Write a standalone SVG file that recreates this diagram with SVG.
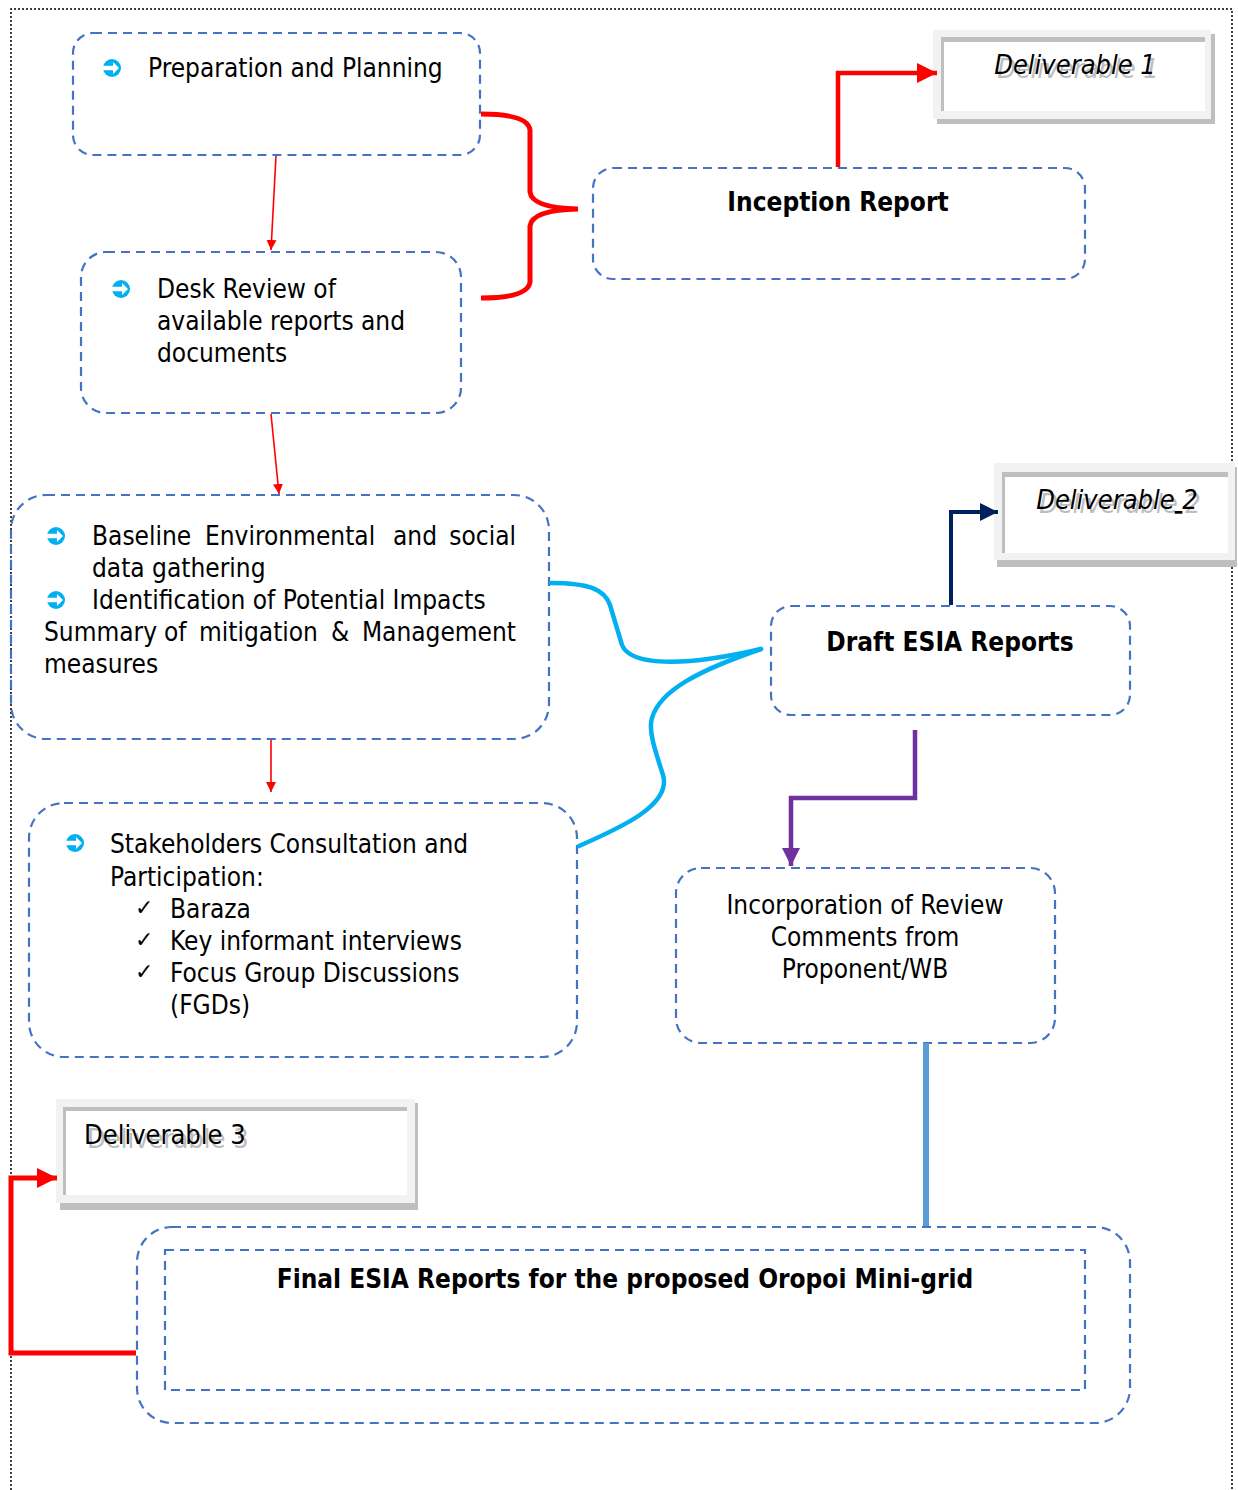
<svg xmlns="http://www.w3.org/2000/svg" width="1238" height="1490" viewBox="0 0 1238 1490">
<defs>
<style>
.box{fill:none;stroke:#4472C4;stroke-width:2.2;stroke-dasharray:9 6}
.t{font-family:"DejaVu Sans Condensed","DejaVu Sans",sans-serif;font-stretch:condensed;font-size:26px;fill:#000}
.b{font-weight:bold}
.chk{font-family:"DejaVu Sans",sans-serif;font-size:22px;fill:#000}
.dl{font-family:"DejaVu Sans Condensed","DejaVu Sans",sans-serif;font-stretch:condensed;font-size:27px;fill:#000}
.dls{font-family:"DejaVu Sans Condensed","DejaVu Sans",sans-serif;font-stretch:condensed;font-size:27px;fill:#BDBDBD}
.frame{fill:#F2F2F2}
.shadow{fill:#BFBFBF}
.inner{fill:#FFFFFF}
</style>
<g id="bullet">
<circle cx="0" cy="0" r="9" fill="#00B0F0"/>
<path d="M-10,-2.2 L1,-2.2 L1,-6 L7,0 L1,6 L1,2.2 L-10,2.2 Z" fill="#FFFFFF"/>
</g>
<marker id="thinRed" viewBox="0 0 10 10" refX="10" refY="5" markerWidth="10" markerHeight="10" markerUnits="userSpaceOnUse" orient="auto">
<path d="M0,0 L10,5 L0,10 Z" fill="#FF0000"/>
</marker>
<marker id="bigRed" viewBox="0 0 10 10" refX="10" refY="5" markerWidth="20" markerHeight="20" markerUnits="userSpaceOnUse" orient="auto">
<path d="M0,0 L10,5 L0,10 Z" fill="#FF0000"/>
</marker>
<marker id="navy" viewBox="0 0 10 10" refX="10" refY="5" markerWidth="18" markerHeight="18" markerUnits="userSpaceOnUse" orient="auto">
<path d="M0,0 L10,5 L0,10 Z" fill="#002060"/>
</marker>
<marker id="purple" viewBox="0 0 10 10" refX="10" refY="5" markerWidth="18" markerHeight="18" markerUnits="userSpaceOnUse" orient="auto">
<path d="M0,0 L10,5 L0,10 Z" fill="#7030A0"/>
</marker>
</defs>
<rect width="1238" height="1490" fill="#FFFFFF"/>
<path d="M11,1490 L11,9 L1232,9 L1232,1490" fill="none" stroke="#000" stroke-width="1.5" stroke-dasharray="2 2"/>

<g id="prep">
<rect class="box" x="73" y="33" width="407" height="122" rx="20"/>
<use href="#bullet" x="112" y="68"/>
<text class="t" x="148" y="77">Preparation and Planning</text>
</g>

<g id="desk">
<rect class="box" x="81" y="252" width="380" height="161" rx="25"/>
<use href="#bullet" x="121" y="289"/>
<text class="t" x="157" y="298">Desk Review of</text>
<text class="t" x="157" y="330">available reports and</text>
<text class="t" x="157" y="362">documents</text>
</g>

<g id="baseline">
<rect class="box" x="11" y="495" width="538" height="244" rx="35"/>
<use href="#bullet" x="56" y="536"/>
<text class="t" x="92" y="545">Baseline</text>
<text class="t" x="205" y="545">Environmental</text>
<text class="t" x="393" y="545">and</text>
<text class="t" x="516" y="545" text-anchor="end">social</text>
<text class="t" x="92" y="577">data gathering</text>
<use href="#bullet" x="56" y="600"/>
<text class="t" x="92" y="609">Identification of Potential Impacts</text>
<text class="t" x="44" y="641">Summary</text>
<text class="t" x="164" y="641">of</text>
<text class="t" x="199" y="641">mitigation</text>
<text class="t" x="331" y="641">&amp;</text>
<text class="t" x="516" y="641" text-anchor="end">Management</text>
<text class="t" x="44" y="673">measures</text>
</g>

<g id="stakeholders">
<rect class="box" x="29" y="803" width="548" height="254" rx="35"/>
<use href="#bullet" x="75" y="843"/>
<text class="t" x="110" y="853">Stakeholders Consultation and</text>
<text class="t" x="110" y="886">Participation:</text>
<text class="chk" x="135" y="915">✓</text>
<text class="t" x="170" y="918">Baraza</text>
<text class="chk" x="135" y="947">✓</text>
<text class="t" x="170" y="950">Key informant interviews</text>
<text class="chk" x="135" y="979">✓</text>
<text class="t" x="170" y="982">Focus Group Discussions</text>
<text class="t" x="170" y="1014">(FGDs)</text>
</g>

<g id="inception">
<rect class="box" x="593" y="168" width="492" height="111" rx="20"/>
<text class="t b" x="838" y="211" text-anchor="middle">Inception Report</text>
</g>

<g id="deliverable1">
<rect class="shadow" x="937" y="34" width="278" height="90"/>
<rect class="frame" x="933" y="30" width="278" height="89"/>
<rect class="shadow" x="941" y="37" width="264" height="74"/>
<rect class="inner" x="944" y="42" width="261" height="69"/>
<text class="dls" x="1078" y="78" text-anchor="middle" font-style="italic">Deliverable 1</text>
<text class="dl" x="1075" y="74" text-anchor="middle" font-style="italic">Deliverable 1</text>
</g>

<g id="draft">
<rect class="box" x="771" y="606" width="359" height="109" rx="20"/>
<text class="t b" x="950" y="651" text-anchor="middle">Draft ESIA Reports</text>
</g>

<g id="deliverable2">
<rect class="shadow" x="997" y="467" width="240" height="100"/>
<rect class="frame" x="994" y="463" width="241" height="97"/>
<rect class="shadow" x="1002" y="472" width="226" height="81"/>
<rect class="inner" x="1005" y="477" width="223" height="76"/>
<text class="dls" x="1120" y="513" text-anchor="middle" font-style="italic">Deliverable 2</text>
<text class="dl" x="1117" y="509" text-anchor="middle" font-style="italic">Deliverable<tspan text-decoration="underline"> </tspan>2</text>
</g>

<g id="incorporation">
<rect class="box" x="676" y="868" width="379" height="175" rx="25"/>
<text class="t" x="865" y="914" text-anchor="middle">Incorporation of Review</text>
<text class="t" x="865" y="946" text-anchor="middle">Comments from</text>
<text class="t" x="865" y="978" text-anchor="middle">Proponent/WB</text>
</g>

<g id="deliverable3">
<rect class="shadow" x="60" y="1103" width="358" height="107"/>
<rect class="frame" x="56" y="1099" width="359" height="104"/>
<rect class="shadow" x="63" y="1107" width="344" height="88"/>
<rect class="inner" x="66" y="1111" width="341" height="84"/>
<text class="dls" x="87" y="1148">Deliverable 3</text>
<text class="dl" x="84" y="1144">Deliverable 3</text>
</g>

<g id="final">
<rect class="box" x="137" y="1227" width="993" height="196" rx="35"/>
<rect class="box" x="165" y="1250" width="920" height="140"/>
<text class="t b" x="625" y="1288" text-anchor="middle">Final ESIA Reports for the proposed Oropoi Mini-grid</text>
</g>

<g id="connectors" fill="none">
<line x1="276" y1="156" x2="271" y2="250" stroke="#FF0000" stroke-width="1.6" marker-end="url(#thinRed)"/>
<line x1="271" y1="414" x2="279" y2="494" stroke="#FF0000" stroke-width="1.6" marker-end="url(#thinRed)"/>
<line x1="271" y1="740" x2="271" y2="792" stroke="#FF0000" stroke-width="1.6" marker-end="url(#thinRed)"/>
<path d="M481,114 Q528,114 530,130 L530,192 Q532,208 578,209 Q532,210 530,226 L530,282 Q528,298 481,298" stroke="#FF0000" stroke-width="5"/>
<path d="M838,167 L838,73 L937,73" stroke="#FF0000" stroke-width="4.5" marker-end="url(#bigRed)"/>
<path d="M951,605 L951,512 L998,512" stroke="#002060" stroke-width="4" marker-end="url(#navy)"/>
<path d="M551,583 C590,583 605,590 610,605 L622,645 C630,665 680,668 761,649" stroke="#00B0F0" stroke-width="4.5" stroke-linecap="round"/>
<path d="M761,649 C700,670 660,690 652,718 C648,730 655,750 663,775 C672,805 620,828 579,846" stroke="#00B0F0" stroke-width="4.5" stroke-linecap="round"/>
<path d="M915,730 L915,798 L791,798 L791,866" stroke="#7030A0" stroke-width="4.5" marker-end="url(#purple)"/>
<line x1="926" y1="1043" x2="926" y2="1226" stroke="#5B9BD5" stroke-width="6"/>
<path d="M136,1353 L11,1353 L11,1178 L57,1178" stroke="#FF0000" stroke-width="5" marker-end="url(#bigRed)"/>
</g>
</svg>
